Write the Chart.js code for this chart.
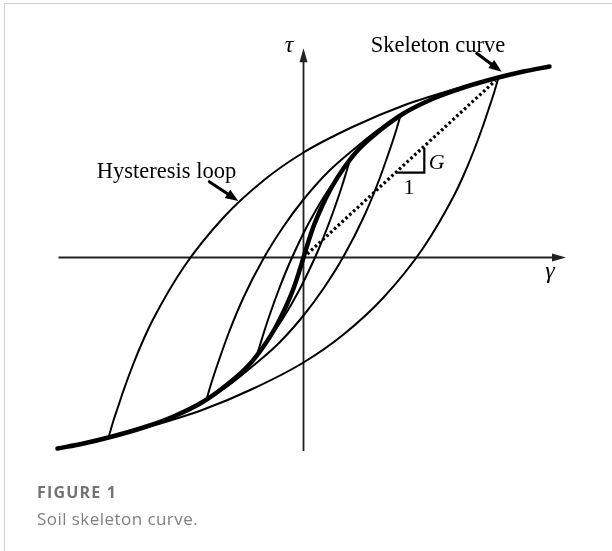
<!DOCTYPE html>
<html lang="en">
<head>
  <meta charset="UTF-8" />
  <title>Soil skeleton curve</title>
  <script src="https://cdn.jsdelivr.net/npm/chart.js"></script>
  <style>
    body { margin: 0; background: #fff; }
    #frame {
      position: absolute; left: 4px; top: 3px; width: 640px; height: 600px;
      border-left: 1.5px solid #d0d0d0; border-top: 1.5px solid #d0d0d0;
    }
    #plot { position: absolute; left: 0; top: 0; }
    .cap { position: absolute; left: 37px; font-family: "Open Sans", Lato, sans-serif; white-space: nowrap; }
    #figno { top: 482px; font-size: 16px; line-height: 20px; font-weight: 700; color: #737373; letter-spacing: 1.2px; }
    #figtitle { top: 508px; font-size: 17px; line-height: 22px; color: #808080; letter-spacing: 0.45px; }
  </style>
</head>
<body>
  <div id="frame"></div>
  <canvas id="plot" width="612" height="551"></canvas>
  <div class="cap" id="figno">FIGURE 1</div>
  <div class="cap" id="figtitle">Soil skeleton curve.</div>

  <script>
    // skeleton (backbone) curve, shear strain γ vs shear stress τ
    const skeletonGamma = [-24.6, -22, -19.5, -16, -13, -10, -7.5, -5.5, -4, -2.8, -1.8, -1, -0.4, 0, 0.4, 1, 1.8, 2.8, 4, 5.5, 7.5, 10, 13, 16, 19.5, 22, 24.6];
    const skeletonTau   = [-19.1, -18.6, -18.0, -17.0, -15.9, -14.4, -12.6, -10.8, -8.9, -7.0, -5.0, -3.1, -1.3, 0, 1.3, 3.1, 5.0, 7.0, 8.9, 10.8, 12.6, 14.4, 15.9, 17.0, 18.0, 18.6, 19.1];

    // large loop: reloading (up) and unloading (down) branches
    const loop1UpGamma   = [-19.5, -19, -18.5, -18, -17, -16, -15, -12, -8, -4, 0, 5, 10, 15, 19.5];
    const loop1UpTau     = [-18.0, -16.3, -14.8, -13.3, -10.6, -8.2, -6.1, -1.0, 4.0, 7.7, 10.5, 13.1, 15.2, 16.8, 18.0];
    const loop1DownGamma = [-19.5, -15, -10, -5, 0, 4, 8, 12, 15, 16, 17, 18, 18.5, 19, 19.5];
    const loop1DownTau   = [-18.0, -16.8, -15.2, -13.1, -10.5, -7.7, -4.0, 1.0, 6.1, 8.2, 10.6, 13.3, 14.8, 16.3, 18.0];

    // middle loop
    const loop2UpGamma   = [-9.7, -9.2, -8.5, -7.5, -6, -4, -2, 0, 2.5, 5, 7.5, 9.7];
    const loop2UpTau     = [-14.2, -12.5, -10.4, -7.6, -4.0, -0.1, 3.1, 5.8, 8.6, 10.8, 12.8, 14.2];
    const loop2DownGamma = [-9.7, -7.5, -5, -2.5, 0, 2, 4, 6, 7.5, 8.5, 9.2, 9.7];
    const loop2DownTau   = [-14.2, -12.8, -10.8, -8.6, -5.8, -3.1, 0.1, 4.0, 7.6, 10.4, 12.5, 14.2];

    // small loop
    const loop3UpGamma   = [-4.65, -4.3, -3.9, -3.3, -2.5, -1.5, -0.5, 0.5, 2, 3.5, 4.65];
    const loop3UpTau     = [-9.75, -8.6, -7.3, -5.5, -3.3, -0.8, 1.4, 3.4, 6.0, 8.2, 9.75];
    const loop3DownGamma = [-4.65, -3.5, -2, -0.5, 0.5, 1.5, 2.5, 3.3, 3.9, 4.3, 4.65];
    const loop3DownTau   = [-9.75, -8.2, -6.0, -3.4, -1.4, 0.8, 3.3, 5.5, 7.3, 8.6, 9.75];

    // secant modulus line and its slope triangle
    const secantGamma = [0, 19.2];
    const secantTau   = [0, 17.7];
    const slopeGamma  = [9.22, 12.08, 12.08];
    const slopeTau    = [8.48, 8.48, 10.95];

    const pts = (xs, ys) => xs.map((x, i) => ({ x, y: ys[i] }));

    function branch(xs, ys, width) {
      return {
        data: pts(xs, ys), showLine: true, pointRadius: 0,
        borderColor: '#000', borderWidth: width,
        cubicInterpolationMode: 'monotone', borderCapStyle: 'round'
      };
    }

    // axes, arrows and labels, placed in data units
    const axisGamma = { from: -24.5, to: 26.25 };
    const axisTau = { from: -19.35, to: 20.92 };
    const arrows = [
      { from: [17.32, 20.42], to: [19.82, 18.58] },
      { from: [-9.42, 7.58], to: [-6.52, 5.65] }
    ];
    const labels = [
      { text: 'τ', at: [-1.45, 21.2], font: 'italic 24px "Liberation Serif"' },
      { text: 'γ', at: [24.65, -1.4], font: 'italic 24px "Liberation Serif"' },
      { text: 'Skeleton curve', at: [13.45, 21.1], font: '22.5px "Liberation Serif"' },
      { text: 'Hysteresis loop', at: [-13.7, 8.55], font: '22.5px "Liberation Serif"' },
      { text: 'G', at: [13.32, 9.42], font: 'italic 22px "Liberation Serif"' },
      { text: '1', at: [10.55, 6.95], font: '22px "Liberation Serif"' }
    ];

    function arrowHead(ctx, x1, y1, x2, y2, len, half) {
      const a = Math.atan2(y2 - y1, x2 - x1);
      ctx.beginPath();
      ctx.moveTo(x2, y2);
      ctx.lineTo(x2 - len * Math.cos(a) + half * Math.sin(a), y2 - len * Math.sin(a) - half * Math.cos(a));
      ctx.lineTo(x2 - len * Math.cos(a) - half * Math.sin(a), y2 - len * Math.sin(a) + half * Math.cos(a));
      ctx.closePath();
      ctx.fill();
    }

    const decor = {
      id: 'decor',
      beforeDatasetsDraw(chart) {
        const { ctx, scales: { x, y } } = chart;
        ctx.save();
        ctx.strokeStyle = '#222'; ctx.fillStyle = '#222'; ctx.lineWidth = 1.8;
        const x0 = x.getPixelForValue(0), y0 = y.getPixelForValue(0);
        const xa = x.getPixelForValue(axisGamma.from), xb = x.getPixelForValue(axisGamma.to);
        const ya = y.getPixelForValue(axisTau.from), yb = y.getPixelForValue(axisTau.to);
        ctx.beginPath(); ctx.moveTo(xa, y0); ctx.lineTo(xb - 6, y0); ctx.stroke();
        arrowHead(ctx, xa, y0, xb, y0, 14, 4);
        ctx.beginPath(); ctx.moveTo(x0, ya); ctx.lineTo(x0, yb + 6); ctx.stroke();
        arrowHead(ctx, x0, ya, x0, yb, 14, 4);
        ctx.restore();
      },
      afterDatasetsDraw(chart) {
        const { ctx, scales: { x, y } } = chart;
        ctx.save();
        ctx.fillStyle = '#000'; ctx.strokeStyle = '#000';
        ctx.textAlign = 'center'; ctx.textBaseline = 'middle';
        labels.forEach(l => {
          ctx.font = l.font;
          ctx.fillText(l.text, x.getPixelForValue(l.at[0]), y.getPixelForValue(l.at[1]));
        });
        ctx.lineWidth = 3; ctx.lineCap = 'round';
        arrows.forEach(a => {
          const x1 = x.getPixelForValue(a.from[0]), y1 = y.getPixelForValue(a.from[1]);
          const x2 = x.getPixelForValue(a.to[0]), y2 = y.getPixelForValue(a.to[1]);
          const k = Math.hypot(x2 - x1, y2 - y1);
          ctx.beginPath(); ctx.moveTo(x1, y1);
          ctx.lineTo(x2 - (x2 - x1) / k * 8, y2 - (y2 - y1) / k * 8); ctx.stroke();
          arrowHead(ctx, x1, y1, x2, y2, 13, 5);
        });
        ctx.restore();
      }
    };

    new Chart(document.getElementById('plot'), {
      type: 'scatter',
      data: {
        datasets: [
          branch(loop1UpGamma, loop1UpTau, 2),
          branch(loop1DownGamma, loop1DownTau, 2),
          branch(loop2UpGamma, loop2UpTau, 2),
          branch(loop2DownGamma, loop2DownTau, 2),
          branch(loop3UpGamma, loop3UpTau, 2),
          branch(loop3DownGamma, loop3DownTau, 2),
          { ...branch(slopeGamma, slopeTau, 2.2), cubicInterpolationMode: 'default', tension: 0, borderCapStyle: 'butt' },
          { ...branch(secantGamma, secantTau, 3.2), borderDash: [2.6, 2.6], borderCapStyle: 'butt', cubicInterpolationMode: 'default' },
          branch(skeletonGamma, skeletonTau, 4.5)
        ]
      },
      options: {
        responsive: false,
        animation: false,
        events: [],
        layout: { padding: 0 },
        plugins: { legend: { display: false }, tooltip: { enabled: false } },
        scales: {
          x: { type: 'linear', min: -30.35, max: 30.85, display: false },
          y: { type: 'linear', min: -29.35, max: 25.75, display: false }
        }
      },
      plugins: [decor]
    });
  </script>
</body>
</html>
